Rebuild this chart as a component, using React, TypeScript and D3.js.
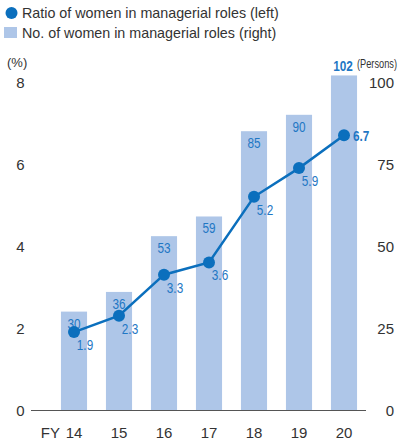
import React from "react";
import * as d3 from "d3";

const years = ["14", "15", "16", "17", "18", "19", "20"];
const headcount = [30, 36, 53, 59, 85, 90, 102];
const ratio = [1.9, 2.3, 3.3, 3.6, 5.2, 5.9, 6.7];
const leftTicks = [0, 2, 4, 6, 8];
const rightTicks = [0, 25, 50, 75, 100];

const W = 402;
const H = 443;
const BAR = "#aec6e8";
const BLUE = "#0b6fbd";
const LBL = "#1f77c4";
const TXT = "#333333";
const FONT = "'Liberation Sans', Arial, sans-serif";

function CText(props: {
  x: number;
  y: number;
  anchor?: "start" | "middle" | "end";
  size: number;
  bold?: boolean;
  fill: string;
  sx?: number;
  children: React.ReactNode;
}) {
  const sx = props.sx ?? 0.76;
  return (
    <text
      transform={`translate(${props.x},${props.y}) scale(${sx},1)`}
      textAnchor={props.anchor || "start"}
      fontFamily={FONT}
      fontSize={props.size}
      fontWeight={props.bold ? "bold" : "normal"}
      fill={props.fill}
    >
      {props.children}
    </text>
  );
}

export default function App() {
  const x = d3.scaleBand<string>().domain(years).range([51.5, 366.5]).paddingInner(0.42).paddingOuter(0.21);
  const yL = d3.scaleLinear().domain([0, 8]).range([410, 82]);
  const yR = d3.scaleLinear().domain([0, 100]).range([410, 82]);
  const cx = (i: number) => (x(years[i]) as number) + x.bandwidth() / 2;
  const line = d3
    .line<number>()
    .x((_, i) => cx(i))
    .y((d) => yL(d));
  const last = years.length - 1;

  return (
    <svg width={W} height={H} style={{ position: "absolute", left: 0, top: 0 }}>
      <rect width={W} height={H} fill="#fff" />
      {/* legend */}
      <circle cx={11.5} cy={13} r={6} fill={BLUE} />
      <text x={22} y={18} fontFamily={FONT} fontSize={14.3} fill={TXT}>
        Ratio of women in managerial roles (left)
      </text>
      <rect x={4} y={27} width={13} height={11} fill={BAR} />
      <text x={22} y={38} fontFamily={FONT} fontSize={14.3} fill={TXT}>
        No. of women in managerial roles (right)
      </text>

      {/* axis units */}
      <text x={7} y={67} fontFamily={FONT} fontSize={13} fill={TXT}>
        (%)
      </text>
      <CText x={397} y={68} anchor="end" size={12.5} sx={0.74} fill={TXT}>
        (Persons)
      </CText>

      {/* bars */}
      {headcount.map((v, i) => (
        <rect key={i} x={x(years[i])} y={yR(v)} width={x.bandwidth()} height={yR(0) - yR(v)} fill={BAR} />
      ))}

      {/* baseline */}
      <line x1={31} x2={366} y1={410.5} y2={410.5} stroke="#555" strokeWidth={1} />

      {/* left ticks */}
      {leftTicks.map((t) => (
        <text key={t} x={20.5} y={yL(t) + 5.5} textAnchor="middle" fontFamily={FONT} fontSize={15} fill={TXT}>
          {t}
        </text>
      ))}
      {/* right ticks */}
      {rightTicks.map((t) => (
        <text key={t} x={394} y={yR(t) + 5.5} textAnchor="end" fontFamily={FONT} fontSize={15} fill={TXT}>
          {t}
        </text>
      ))}
      {/* x labels */}
      {years.map((yv, i) => (
        <text key={yv} x={cx(i)} y={438} textAnchor="middle" fontFamily={FONT} fontSize={15} fill={TXT}>
          {yv}
        </text>
      ))}
      <text x={cx(0) - 14} y={438} textAnchor="end" fontFamily={FONT} fontSize={15} fill={TXT}>
        FY
      </text>

      {/* bar labels */}
      {headcount.map((v, i) =>
        i === last ? (
          <CText key={i} x={cx(i) - 1} y={yR(v) - 4} anchor="middle" size={15.5} bold fill={LBL}>
            {v}
          </CText>
        ) : (
          <CText key={i} x={cx(i)} y={yR(v) + 17} anchor="middle" size={15.5} fill={LBL}>
            {v}
          </CText>
        )
      )}

      {/* line */}
      <path d={line(ratio) || ""} fill="none" stroke={BLUE} strokeWidth={2.5} />
      {ratio.map((v, i) => (
        <circle key={i} cx={cx(i)} cy={yL(v)} r={6} fill={BLUE} />
      ))}
      {ratio.map((v, i) =>
        i === last ? (
          <CText key={i} x={cx(i) + 9} y={yL(v) + 5.5} size={15.5} bold fill={LBL}>
            {v.toFixed(1)}
          </CText>
        ) : (
          <CText key={i} x={cx(i) + 11} y={yL(v) + 18} anchor="middle" size={15.5} fill={LBL}>
            {v.toFixed(1)}
          </CText>
        )
      )}
    </svg>
  );
}
